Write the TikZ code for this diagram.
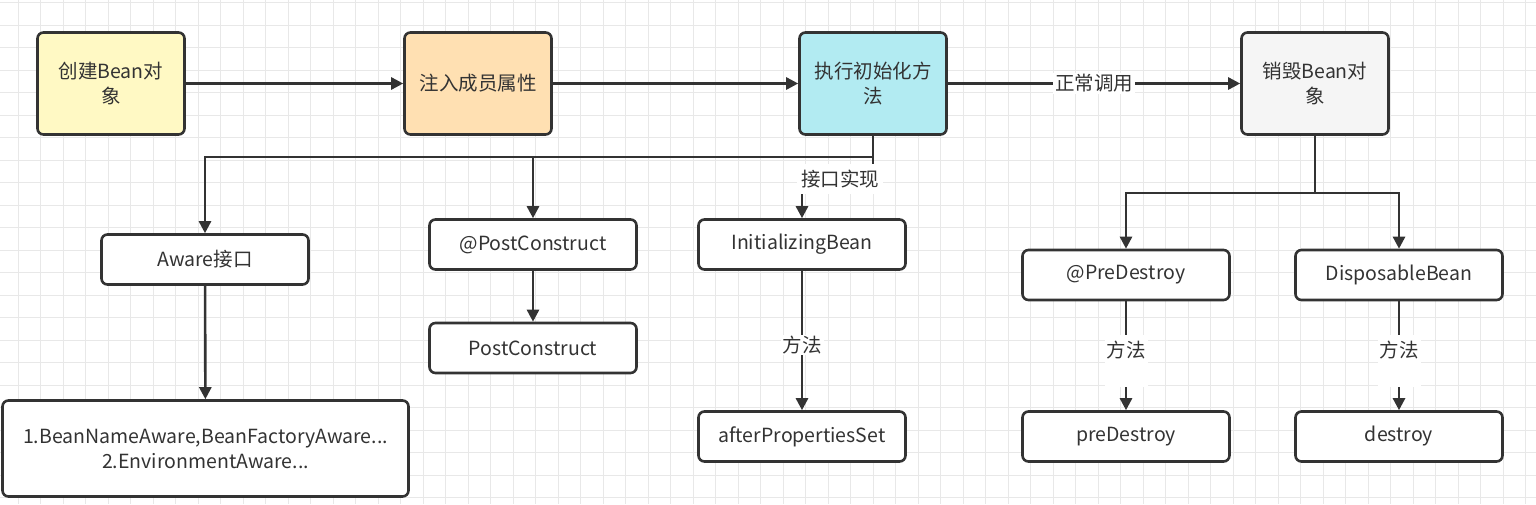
\documentclass[tikz,border=0pt]{standalone}
\usepackage{fontspec}
\setmainfont{Noto Sans CJK SC}
\usetikzlibrary{arrows.meta}
\definecolor{ln}{HTML}{333333}
\definecolor{txt}{HTML}{333333}
\definecolor{gridc}{HTML}{E8E8E8}
\definecolor{cyellow}{HTML}{FFF9C4}
\definecolor{cpeach}{HTML}{FFE0B2}
\definecolor{ccyan}{HTML}{B2EBF2}
\definecolor{cgray}{HTML}{F5F5F5}
\begin{document}
\begin{tikzpicture}[x=1pt,y=-1pt,
  gridline/.style={draw=gridc, line width=1pt},
  box/.style={draw=ln, line width=2.6pt, rounded corners=6pt, text=txt, align=center,
    font=\fontsize{19.5}{25}\selectfont, inner sep=0pt, fill=white},
  bigbox/.style={box, minimum width=147pt, minimum height=102pt},
  smallbox/.style={box, minimum width=207pt, minimum height=50pt},
  arr/.style={draw=ln, line width=2.6pt, -{Triangle[length=12pt, width=12pt]}},
  lbl/.style={fill=white, text=txt, font=\fontsize{19.5}{22}\selectfont, inner xsep=2pt, inner ysep=1pt}]
\useasboundingbox (0,0) rectangle (1536,504);
\fill[white] (0,0) rectangle (1536,504);
\foreach \i in {0,...,68} \draw[gridline] ({18+22.5*\i},0) -- ++(0,504);
\foreach \j in {0,...,22} \draw[gridline] (0,{2.5+22.5*\j}) -- ++(1536,0);

\node[bigbox, fill=cyellow] (b1) at (111,83.5) {创建Bean对\\象};
\node[bigbox, fill=cpeach] (b2) at (478,83.5) {注入成员属性};
\node[bigbox, fill=ccyan] (b3) at (873,83.5) {执行初始化方\\法};
\node[bigbox, fill=cgray] (b4) at (1315,83.5) {销毁Bean对\\象};

\node[smallbox] (aw) at (205,259.5) {Aware接口};
\node[box, minimum width=406pt, minimum height=96pt] (awl) at (205.5,448.5) {1.BeanNameAware,BeanFactoryAware...\\2.EnvironmentAware...};
\node[smallbox] (pc) at (533,244.5) {@PostConstruct};
\node[smallbox] (pcm) at (533,348) {PostConstruct};
\node[smallbox] (ib) at (802,244.5) {InitializingBean};
\node[smallbox] (aps) at (802,436.5) {afterPropertiesSet};
\node[smallbox] (pd) at (1126,275) {@PreDestroy};
\node[smallbox] (db) at (1399,275) {DisposableBean};
\node[smallbox] (pdm) at (1126,436.5) {preDestroy};
\node[smallbox] (dm) at (1399,436.5) {destroy};

\draw[arr] (b1) -- (b2);
\draw[arr] (b2) -- (b3);
\draw[arr] (b3) -- node[lbl] {正常调用} (b4);

\draw[arr] (b3.south) -- ++(0,21) -| (aw.north);
\draw[arr] (b3.south) -- ++(0,21) -| (pc.north);
\draw[arr] (b3.south) -- ++(0,50) -| (ib.north);
\node[lbl, minimum height=30pt, inner xsep=4pt] (lk) at (840,179) {接口实现};

\draw[arr] (b4.south) -- ++(0,57) -| (pd.north);
\draw[arr] (b4.south) -- ++(0,57) -| (db.north);

\draw[arr] (aw) -- (awl);
\draw[arr] (pc) -- (pcm);
\draw[arr] (ib) -- node[lbl, yshift=-4.5pt] {方法} (aps);
\draw[arr] (pd) -- node[lbl, yshift=-5pt, minimum height=52pt] {\raisebox{3pt}[0pt][0pt]{方法}} (pdm);
\draw[arr] (db) -- node[lbl, yshift=-5pt, minimum height=52pt] {\raisebox{3pt}[0pt][0pt]{方法}} (dm);
\end{tikzpicture}
\end{document}
